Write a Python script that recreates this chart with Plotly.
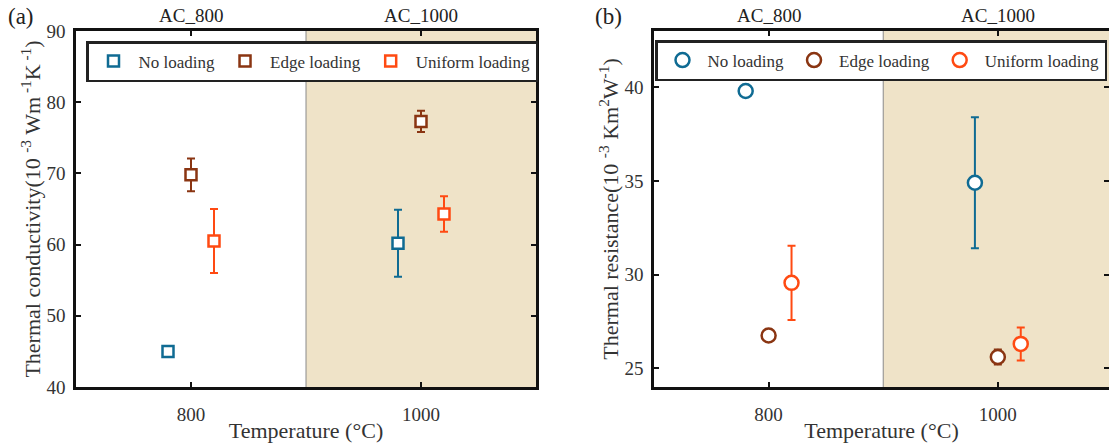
import plotly.graph_objects as go

# ---- data ----
series = ["No loading", "Edge loading", "Uniform loading"]
colors = ["#0f6b93", "#8a3512", "#ff4a12"]
x_pos = {"No loading": [780, 980], "Edge loading": [800, 1000], "Uniform loading": [820, 1020]}

# panel (a): thermal conductivity
k_val = {"No loading": [45.0, 60.2], "Edge loading": [69.8, 77.3], "Uniform loading": [60.5, 64.3]}
k_err = {"No loading": [0.0, 4.7], "Edge loading": [2.3, 1.5], "Uniform loading": [4.5, 2.5]}

# panel (b): thermal resistance
r_val = {"No loading": [39.8, 34.9], "Edge loading": [26.75, 25.6], "Uniform loading": [29.56, 26.3]}
r_err = {"No loading": [0.0, 3.5], "Edge loading": [0.3, 0.4], "Uniform loading": [1.98, 0.88]}

group_labels = ["AC_800", "AC_1000"]
group_x = [800, 1000]

FONT = "Liberation Serif"
W, H = 1109, 447
T, B = 31, 60
PH = H - T - B

fig = go.Figure()

for i, s in enumerate(series):
    fig.add_trace(go.Scatter(
        x=x_pos[s], y=k_val[s], mode="markers", name=s,
        marker=dict(symbol="square", size=11, color="white",
                    line=dict(color=colors[i], width=2.5)),
        error_y=dict(type="data", array=k_err[s], color=colors[i], thickness=2, width=4),
        xaxis="x", yaxis="y", legend="legend"))
for i, s in enumerate(series):
    fig.add_trace(go.Scatter(
        x=x_pos[s], y=r_val[s], mode="markers", name=s,
        marker=dict(symbol="circle", size=14, color="white",
                    line=dict(color=colors[i], width=2.5)),
        error_y=dict(type="data", array=r_err[s], color=colors[i], thickness=2, width=4),
        xaxis="x2", yaxis="y2", legend="legend2"))

axis_common = dict(showline=True, linecolor="#111", linewidth=2.5, mirror="ticks",
                   ticks="inside", ticklen=5, tickwidth=2, tickcolor="#111",
                   showgrid=False, zeroline=False, automargin=False,
                   tickfont=dict(family=FONT, size=19, color="#333"))
title_font = dict(family=FONT, size=22, color="#333")

fig.update_layout(
    width=W, height=H,
    margin=dict(l=0, r=0, t=T, b=B, autoexpand=False),
    plot_bgcolor="white", paper_bgcolor="white",
    font=dict(family=FONT, color="#333"),
    xaxis=dict(domain=[76 / W, 536 / W], range=[700, 1100], tickvals=[800, 1000],
               title=dict(text="Temperature (°C)", font=title_font, standoff=0),
               ticklabelstandoff=8, anchor="y", **axis_common),
    yaxis=dict(domain=[0, 1], range=[40, 90], tickvals=[40, 50, 60, 70, 80, 90],
               title=dict(text="Thermal conductivity(10 <sup>-3</sup> Wm<sup> -1</sup>K<sup> -1</sup>)",
                          font=title_font, standoff=0),
               ticklabelstandoff=4, anchor="x", **axis_common),
    xaxis2=dict(domain=[654 / W, 1.0], range=[700, 1097], tickvals=[800, 1000],
                title=dict(text="Temperature (°C)", font=title_font, standoff=0),
                ticklabelstandoff=8, anchor="y2", **axis_common),
    yaxis2=dict(domain=[0, 1], range=[24, 43], tickvals=[25, 30, 35, 40],
                title=dict(text="Thermal resistance(10 <sup>-3</sup> Km<sup>2</sup>W<sup>-1</sup>)",
                           font=title_font, standoff=0),
                ticklabelstandoff=4, anchor="x2", **axis_common),
    legend=dict(orientation="h", x=86 / W, y=1 - (41 - T) / PH, xanchor="left", yanchor="top",
                bordercolor="#222", borderwidth=2.5, bgcolor="white",
                font=dict(family=FONT, size=17, color="#333"), itemwidth=40),
    legend2=dict(orientation="h", x=1107 / W, y=1 - (40 - T) / PH, xanchor="right", yanchor="top",
                 bordercolor="#222", borderwidth=2.5, bgcolor="white",
                 font=dict(family=FONT, size=17, color="#333"), itemwidth=40),
    showlegend=True,
)

for xr, yr in [("x", "y"), ("x2", "y2")]:
    fig.add_shape(type="rect", xref=xr, yref=yr + " domain", x0=900, x1=1100, y0=0, y1=1,
                  fillcolor="#efe3c8", line=dict(width=0), layer="below")
    fig.add_shape(type="line", xref=xr, yref=yr + " domain", x0=900, x1=900, y0=0, y1=1,
                  line=dict(color="#8a8a8a", width=1), layer="below")
    for lab, gx in zip(group_labels, group_x):
        fig.add_annotation(x=gx, xref=xr, y=1, yref="paper", yanchor="bottom", yshift=3,
                           text=lab, showarrow=False, font=dict(family=FONT, size=19, color="#222"))

fig.add_annotation(x=6 / W, y=1, xref="paper", yref="paper", yanchor="bottom", xanchor="left",
                   yshift=0, text="(a)", showarrow=False, font=dict(family=FONT, size=23, color="#222"))
fig.add_annotation(x=593 / W, y=1, xref="paper", yref="paper", yanchor="bottom", xanchor="left",
                   yshift=0, text="(b)", showarrow=False, font=dict(family=FONT, size=23, color="#222"))

fig.write_html("out.html")
